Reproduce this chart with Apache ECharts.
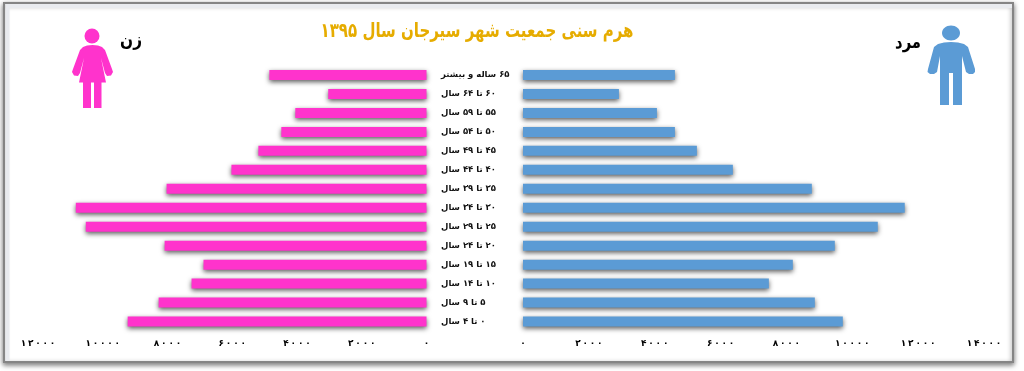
<!DOCTYPE html>
<html>
<head>
<meta charset="utf-8">
<style>
  html, body { margin: 0; padding: 0; background: #fff; }
  #chart { width: 1024px; height: 371px; }
</style>
<script src="https://cdn.jsdelivr.net/npm/echarts@6/dist/echarts.min.js"></script>
</head>
<body>
<!-- rtl so the canvas orders the persian labels correctly -->
<div id="chart" dir="rtl"></div>
<script>
const ageGroups = [
  '۶۵ ساله و بیشتر', '۶۰ تا ۶۴ سال', '۵۵ تا ۵۹ سال', '۵۰ تا ۵۴ سال', '۴۵ تا ۴۹ سال',
  '۴۰ تا ۴۴ سال', '۳۵ تا ۳۹ سال', '۳۰ تا ۳۴ سال', '۲۵ تا ۲۹ سال', '۲۰ تا ۲۴ سال',
  '۱۵ تا ۱۹ سال', '۱۰ تا ۱۴ سال', '۵ تا ۹ سال', '۰ تا ۴ سال'
];
const women = [4854, 3035, 4052, 4484, 5193, 6025, 8028, 10832, 10524, 8089, 6888, 7257, 8274, 9230];
const men = [4613, 2913, 4067, 4613, 5281, 6373, 8771, 11593, 10774, 9469, 8194, 7466, 8862, 9712];
const titleText = 'هرم سنی جمعیت شهر سیرجان سال ۱۳۹۵';
const womenLabel = 'زن';
const menLabel = 'مرد';
const faDigits = '۰۱۲۳۴۵۶۷۸۹';

const font = '"DejaVu Sans"';
const pink = '#ff33cc';
const blue = '#5b9bd5';

// persian digits, thin spaced like the original. LRO keeps them in order inside the rtl canvas
function faTick(value) {
  return '\u202D' + String(value).split('').map(d => faDigits[+d]).join('\u2009') + '\u202C';
}

const barShadow = { shadowBlur: 5, shadowOffsetY: 2, shadowColor: 'rgba(0,0,0,0.65)' };

// icon outlines
const womanBody = [[92.5,45],[98,45.5],[102,47],[105,50],[112,69],[113,72],[111,75.5],[107,76],[105,73],[101,58],[106,82.5],[101.5,82.5],[101.5,108],[94,108],[94,82.5],[91,82.5],[91,108],[83,108],[83,82.5],[79,82.5],[84,58],[80,73],[78,76],[74,75.5],[72,72],[73,69],[80,50],[83,47],[87,45.5]];
const manBody = [[951,42],[958,42.5],[964,44],[968,47],[975,69],[975,72],[973,74],[969,74],[966,72],[962,56],[962,105],[953,105],[953,73],[949,73],[949,105],[940,105],[940,56],[937,72],[934,74],[930,74],[927.5,72],[928,69],[934,47],[938,44],[944,42.5]];

const myChart = echarts.init(document.getElementById('chart'), null, { renderer: 'canvas' });

const valueAxisBase = {
  type: 'value',
  min: 0,
  interval: 2000,
  splitLine: { show: false },
  axisLine: { show: false },
  axisTick: { show: false },
  axisLabel: {
    formatter: faTick,
    color: '#000',
    fontFamily: font,
    fontWeight: 'bold',
    fontSize: 9,
    margin: 8,
    showMaxLabel: true
  }
};

myChart.setOption({
  animation: false,
  backgroundColor: '#fff',
  textStyle: { fontFamily: font },
  graphic: [
    {
      type: 'rect', z: -10,
      shape: { x: 4, y: 3, width: 1009, height: 359 },
      style: {
        fill: '#fff', stroke: '#858585', lineWidth: 2,
        shadowBlur: 5, shadowOffsetY: 2, shadowColor: 'rgba(0,0,0,0.5)'
      }
    },
    {
      // pale band inside the frame, left and top only
      type: 'polyline', z: -9,
      shape: { points: [[7.5, 361], [7.5, 6], [1012, 6]] },
      style: { fill: 'none', stroke: '#e9ebef', lineWidth: 4 }
    },
    { type: 'circle', shape: { cx: 92, cy: 36, r: 7.5 }, style: { fill: pink } },
    { type: 'polygon', shape: { points: womanBody }, style: { fill: pink } },
    { type: 'ellipse', shape: { cx: 951, cy: 33, rx: 9, ry: 7.5 }, style: { fill: blue } },
    { type: 'polygon', shape: { points: manBody }, style: { fill: blue } },
    {
      type: 'text', x: 131, y: 41, scaleX: 0.85,
      style: { text: womenLabel, font: 'bold 18px ' + font, fill: '#000', align: 'center', verticalAlign: 'middle' }
    },
    {
      type: 'text', x: 908, y: 43, scaleX: 0.82,
      style: { text: menLabel, font: 'bold 18px ' + font, fill: '#000', align: 'center', verticalAlign: 'middle' }
    },
    {
      // title is narrower than dejavu, squeeze it
      type: 'text', x: 477, y: 32, scaleX: 0.75,
      style: {
        text: titleText, font: 'bold 20px ' + font, fill: '#e6ac00', align: 'center', verticalAlign: 'middle',
        shadowColor: 'rgba(0,0,0,0.35)', shadowBlur: 2, shadowOffsetY: 1
      }
    }
  ],
  grid: [
    { left: 38, width: 388.5, top: 65.5, height: 265.5 },
    { left: 523, width: 461, top: 65.5, height: 265.5 }
  ],
  xAxis: [
    { ...valueAxisBase, gridIndex: 0, max: 12000, inverse: true },
    { ...valueAxisBase, gridIndex: 1, max: 14000 }
  ],
  yAxis: [
    {
      type: 'category', gridIndex: 0, data: ageGroups, inverse: true, position: 'right',
      axisLine: { show: false }, axisTick: { show: false },
      axisLabel: {
        align: 'left', margin: 14.5, color: '#111', interval: 0,
        fontFamily: font, fontWeight: 'bold', fontSize: 8.5
      }
    },
    {
      type: 'category', gridIndex: 1, data: ageGroups, inverse: true,
      axisLine: { show: false }, axisTick: { show: false }, axisLabel: { show: false }
    }
  ],
  series: [
    {
      name: womenLabel, type: 'bar', xAxisIndex: 0, yAxisIndex: 0, data: women, barWidth: 10,
      itemStyle: { color: pink, ...barShadow }
    },
    {
      name: menLabel, type: 'bar', xAxisIndex: 1, yAxisIndex: 1, data: men, barWidth: 10,
      itemStyle: { color: blue, ...barShadow }
    }
  ]
});
</script>
</body>
</html>
